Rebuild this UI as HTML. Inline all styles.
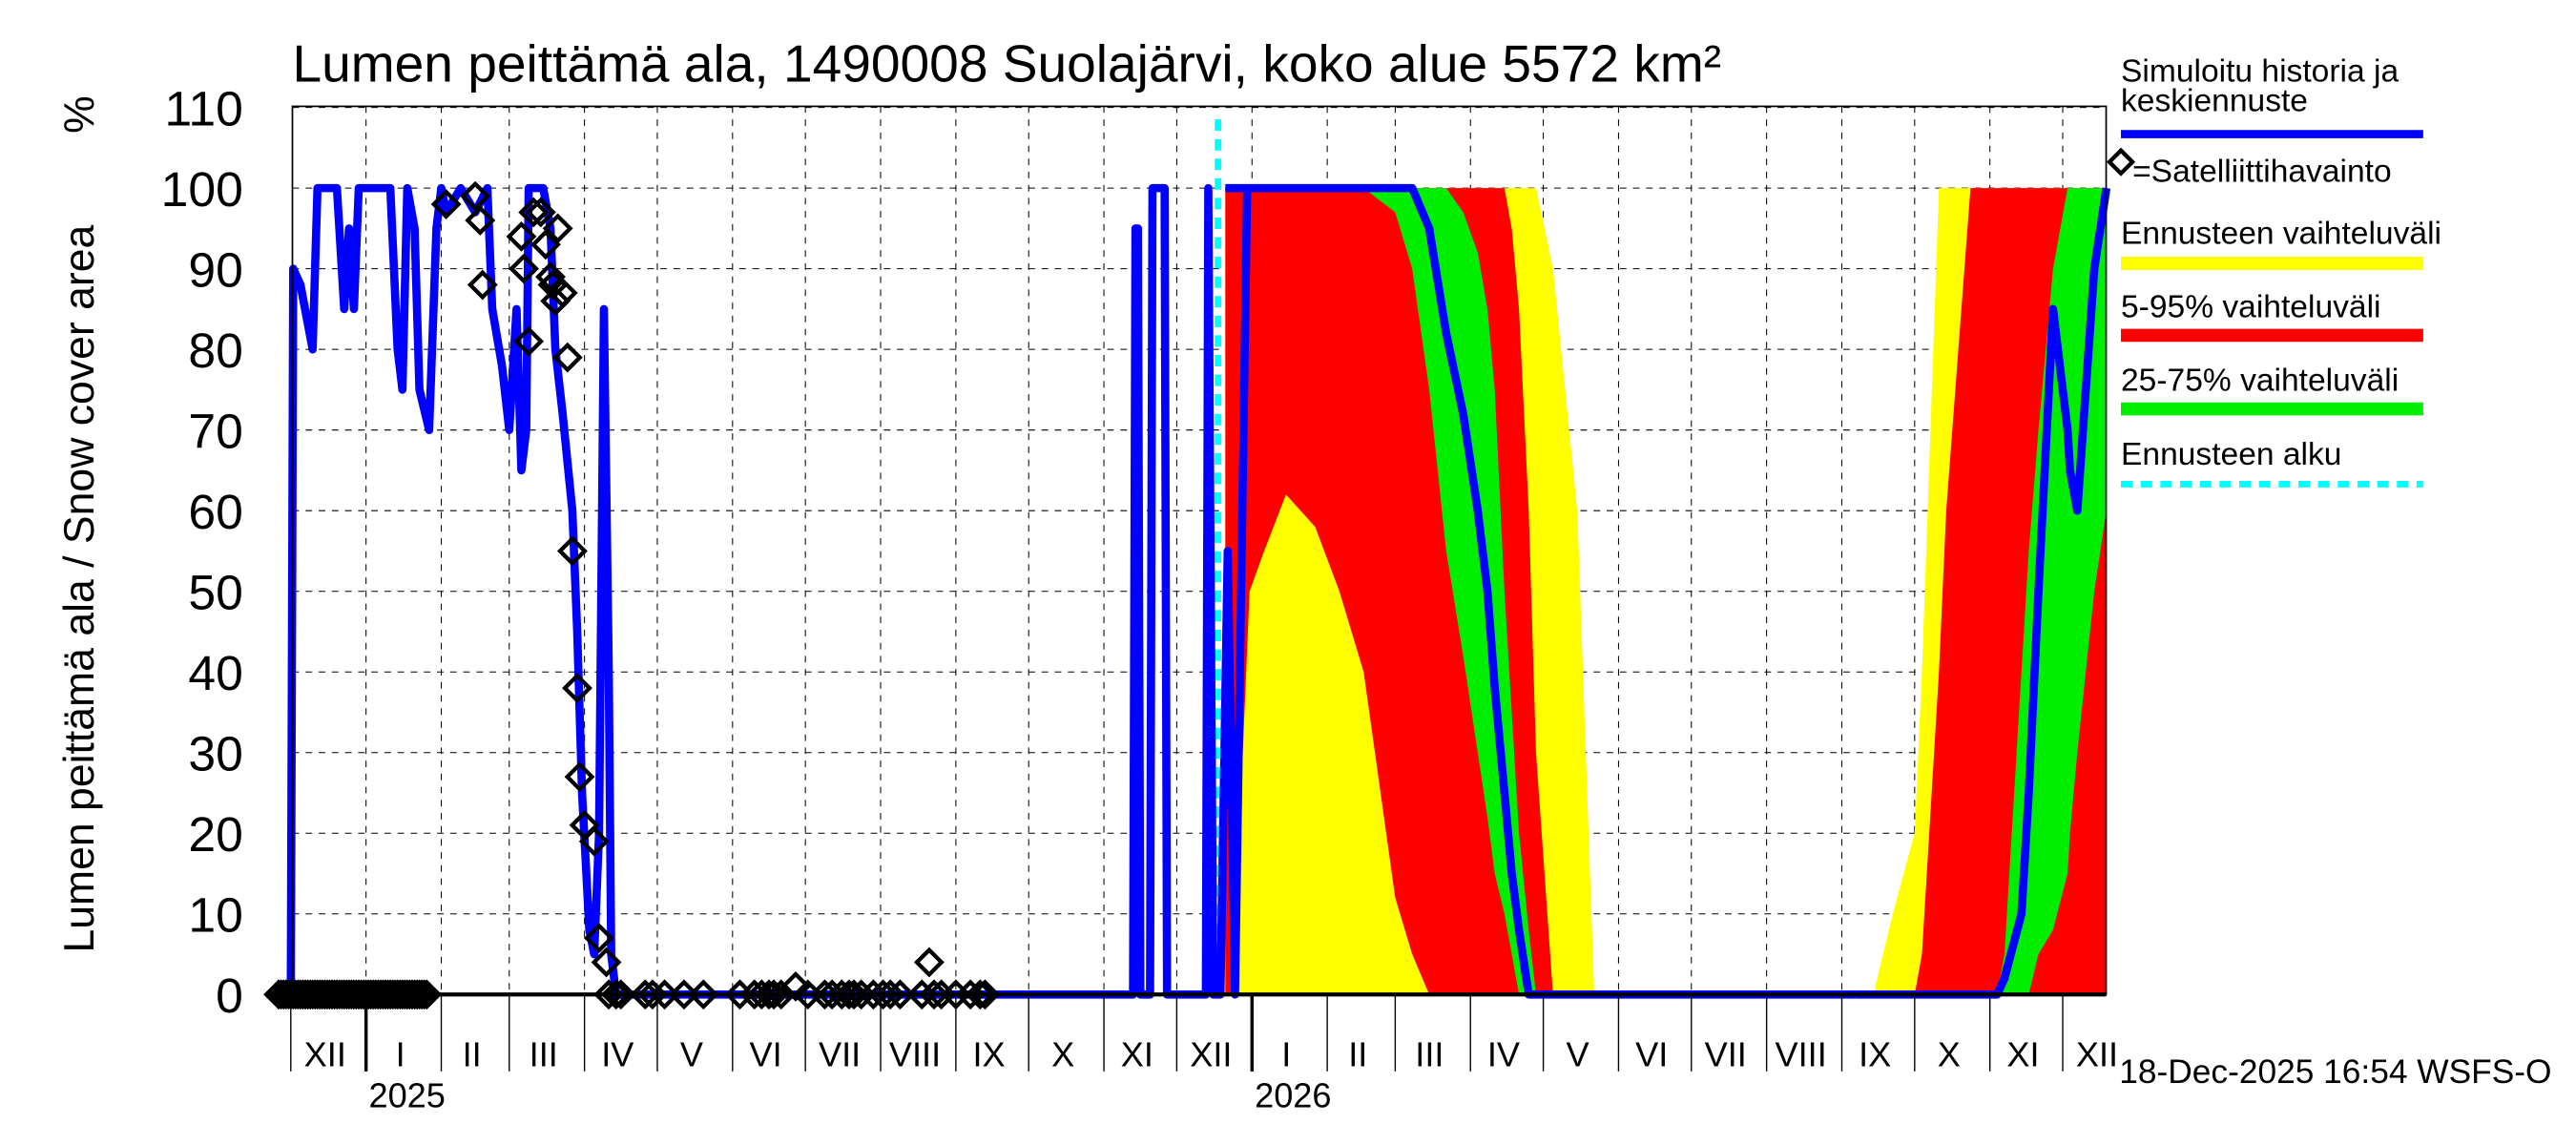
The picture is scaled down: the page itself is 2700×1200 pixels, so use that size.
<!DOCTYPE html>
<html><head><meta charset="utf-8">
<style>
html,body{margin:0;padding:0;background:#fff;}
svg{display:block;font-family:"Liberation Sans",sans-serif;}
</style></head>
<body>
<svg id="chart" xmlns="http://www.w3.org/2000/svg" width="2700" height="1200" viewBox="0 0 1568 700" preserveAspectRatio="none">
<rect x="0" y="0" width="1568" height="700" fill="#fff"/>
<text x="178" y="50" font-size="32">Lumen peittämä ala, 1490008 Suolajärvi, koko alue 5572 km²</text>
<text transform="translate(57,360) rotate(-90)" text-anchor="middle" font-size="26">Lumen peittämä ala / Snow cover area</text>
<text transform="translate(57,70) rotate(-90)" text-anchor="middle" font-size="26">%</text>
<g id="grid"></g>
<g id="bands"></g>
<g id="lines"></g>
<g id="axes"></g>
<g id="obs"></g>
<g id="legend">
<text x="1291" y="50" font-size="19.5">Simuloitu historia ja</text>
<text x="1291" y="68" font-size="19.5">keskiennuste</text>
<line x1="1291" y1="82" x2="1475" y2="82" stroke="#0000ff" stroke-width="5"/>
<path d="M1284,99 L1291,92 L1298,99 L1291,106 Z" fill="none" stroke="#000" stroke-width="2.5"/>
<text x="1298" y="111" font-size="19.5">=Satelliittihavainto</text>
<text x="1291" y="149" font-size="19.5">Ennusteen vaihteluväli</text>
<line x1="1291" y1="161" x2="1475" y2="161" stroke="#ffff00" stroke-width="8"/>
<text x="1291" y="194" font-size="19.5">5-95% vaihteluväli</text>
<line x1="1291" y1="205" x2="1475" y2="205" stroke="#ff0000" stroke-width="8"/>
<text x="1291" y="239" font-size="19.5">25-75% vaihteluväli</text>
<line x1="1291" y1="250" x2="1475" y2="250" stroke="#00ee00" stroke-width="8"/>
<text x="1291" y="284" font-size="19.5">Ennusteen alku</text>
<line x1="1291" y1="296" x2="1475" y2="296" stroke="#00ffff" stroke-width="4" stroke-dasharray="7,5"/>
</g>
<text x="1290" y="662" font-size="20.5">18-Dec-2025 16:54 WSFS-O</text>
</svg>
<script>
// days counted from 1 Dec 2024
const monthStarts = [0,31,62,90,121,151,182,212,243,274,304,335,365,396,427,455,486,516,547,577,608,639,669,700,730];
const monthLabels = ["XII","I","II","III","IV","V","VI","VII","VIII","IX","X","XI","XII","I","II","III","IV","V","VI","VII","VIII","IX","X","XI","XII"];
const yearLabels = ["2025","2026"];
const yearDays = [31,396];
const yTicks = [0,10,20,30,40,50,60,70,80,90,100,110];
const forecastStart = 382;

const histDays = [0,1,4,9,11,19,22,24,26,28,41,44,46,48,51,53,57,60,62,64,70,76,81,83,87,90,93,95,97,98,104,107,109,112,116,118,120,123,125,127,129,131,132,134,347,348,349,350,354,355,360,361,377,378,380,383,386,389,394];
const histVals = [0,90,88,80,100,100,85,95,85,100,100,80,75,100,95,75,70,95,100,97,100,97,100,85,78,70,85,65,70,100,100,95,80,72,60,45,25,8,5,20,85,40,5,0,0,95,95,0,0,100,100,0,0,100,0,0,55,0,100];

const springDays = [385,388,395,401,410,422,432,442,455,462,469,476,483,489,493,496,500,503,506,510,513,520,530,537];
const springMax  = [100,100,100,100,100,100,100,100,100,100,100,100,100,100,100,100,100,100,100,100,100,90,60,0];
const springMin  = [0,0,0,0,0,0,0,0,0,0,0,0,0,0,0,0,0,0,0,0,0,0,0,0];
const springP95  = [100,100,100,100,100,100,100,100,100,100,100,100,100,100,100,100,100,95,85,60,30,0,0,0];
const springP5   = [0,0,50,55,62,58,50,40,12,5,0,0,0,0,0,0,0,0,0,0,0,0,0,0];
const springP75  = [100,100,100,100,100,100,100,100,100,100,100,100,97,92,85,75,50,35,20,8,0,0,0,0];
const springP25  = [100,100,100,100,100,100,100,100,97,90,75,55,42,30,22,15,10,5,0,0,0,0,0,0];
const springMed  = [100,100,100,100,100,100,100,100,100,100,95,82,72,60,50,38,25,15,8,0,0,0,0,0];

const autumnDays = [645,652,660,669,672,679,682,692,703,706,713,716,720,726,732,733,736,743,748];
const autumnMax = [0,0,10,20,40,100,100,100,100,100,100,100,100,100,100,100,100,100,100];
const autumnMin = [0,0,0,0,0,0,0,0,0,0,0,0,0,0,0,0,0,0,0];
const autumnP95 = [0,0,0,0,5,40,60,100,100,100,100,100,100,100,100,100,100,100,100];
const autumnP5  = [0,0,0,0,0,0,0,0,0,0,0,0,0,0,0,0,0,0,0];
const autumnP75 = [0,0,0,0,0,0,0,0,0,5,40,55,70,90,100,100,100,100,100];
const autumnP25 = [0,0,0,0,0,0,0,0,0,0,0,0,5,8,15,20,30,50,60];
const autumnMed = [0,0,0,0,0,0,0,0,0,2,10,25,50,85,70,65,60,90,100];
const midDays = [537,645];
const midVals = [0,0];

const obsDays = [-5,-4,-3,-2,-1,0,1,2,3,4,5,6,7,8,9,10,11,12,13,14,15,16,17,18,19,20,21,22,23,24,25,26,27,28,29,30,31,32,33,34,35,36,37,38,39,40,41,42,43,44,45,46,47,48,49,50,51,52,53,54,55,56,
  64,76,78,79,95,96,98,100,103,105,107,108,109,110,112,114,116,119,118,121,127,130,125,131,134,
  136,146,149,154,162,170,185,191,194,197,199,202,208,213,220,223,227,230,232,235,240,244,247,251,260,263,265,268,274,280,284,286];
const obsVals = [0,0,0,0,0,0,0,0,0,0,0,0,0,0,0,0,0,0,0,0,0,0,0,0,0,0,0,0,0,0,0,0,0,0,0,0,0,0,0,0,0,0,0,0,0,0,0,0,0,0,0,0,0,0,0,0,0,0,0,0,0,0,
  98,99,96,88,94,90,81,97,97,93,89,88,86,95,87,79,55,27,38,21,7,4,19,0,0,
  0,0,0,0,0,0,0,0,0,0,0,0,1,0,0,0,0,0,0,0,0,0,0,0,0,4,0,0,0,0,0,0];

const NS = "http://www.w3.org/2000/svg";
const X0 = 177, PX = 1.4775, Y0 = 608, PY = 4.93;
const xs = d => X0 + d * PX;
const ys = v => Y0 - v * PY;
function mk(tag, attrs, parent) {
  const e = document.createElementNS(NS, tag);
  for (const k in attrs) e.setAttribute(k, attrs[k]);
  parent.appendChild(e);
  return e;
}
const grid = document.getElementById('grid');
const bands = document.getElementById('bands');
const lines = document.getElementById('lines');
const axes = document.getElementById('axes');
const obs = document.getElementById('obs');

yTicks.forEach(v => {
  if (v > 0) {
    const g = mk('line', {x1:178, x2:1282, y1:ys(v), y2:ys(v), stroke:'#000', 'stroke-width':0.6, 'stroke-dasharray':'4,4'}, grid);
    
    
  }
  const t = mk('text', {x:148, y:ys(v)+11, 'text-anchor':'end', 'font-size':30}, axes);
  t.textContent = v;
  
  
});
monthStarts.forEach((d, i) => {
  const x = xs(d);
  if (i > 0) {
    const g = mk('line', {x1:x, x2:x, y1:65, y2:608, stroke:'#000', 'stroke-width':0.6, 'stroke-dasharray':'4,4'}, grid);
    
    
  }
  const tk = mk('line', {x1:x, x2:x, y1:608, y2:655, stroke:'#000', 'stroke-width':0.8}, axes);
  
  
  const next = i + 1 < monthStarts.length ? monthStarts[i+1] : 761;
  const t = mk('text', {x:(x + xs(next))/2 - 2, y:652, 'text-anchor':'middle', 'font-size':21}, axes);
  t.textContent = monthLabels[i];
  
  
});
yearDays.forEach((d, i) => {
  const tk = mk('line', {x1:xs(d), x2:xs(d), y1:608, y2:655, stroke:'#000', 'stroke-width':2}, axes);
  
  
  const t = mk('text', {x:xs(d)+25, y:677, 'text-anchor':'middle', 'font-size':21}, axes);
  t.textContent = yearLabels[i];
  
  
});

function band(days, lo, hi, color, name) {
  let pts = days.map((d, i) => xs(d) + ',' + ys(hi[i]));
  pts = pts.concat(days.map((d, i) => xs(d) + ',' + ys(lo[i])).reverse());
  const p = mk('polygon', {points: pts.join(' '), fill: color, stroke: 'none'}, bands);
  
  
}
band(springDays, springMin, springMax, '#ffff00', 'band-minmax-spring');
band(springDays, springP5, springP95, '#ff0000', 'band-5-95-spring');
band(springDays, springP25, springP75, '#00ee00', 'band-25-75-spring');
band(autumnDays, autumnMin, autumnMax, '#ffff00', 'band-minmax-autumn');
band(autumnDays, autumnP5, autumnP95, '#ff0000', 'band-5-95-autumn');
band(autumnDays, autumnP25, autumnP75, '#00ee00', 'band-25-75-autumn');

const fr = mk('rect', {x:178, y:65, width:1104, height:543, fill:'none', stroke:'#000', 'stroke-width':1}, axes);


const zl = mk('line', {x1:178, x2:1282, y1:608, y2:608, stroke:'#000', 'stroke-width':2.5}, axes);



const fl = mk('line', {x1:xs(forecastStart), x2:xs(forecastStart), y1:73, y2:608, stroke:'#00ffff', 'stroke-width':4, 'stroke-dasharray':'7,5'}, lines);



function poly(days, vals, name) {
  const p = mk('polyline', {points: days.map((d, i) => xs(d) + ',' + ys(vals[i])).join(' '), fill:'none', stroke:'#0000ff', 'stroke-width':5, 'stroke-linejoin':'round'}, lines);
  
  
}
poly(histDays, histVals, 'history-line');
poly(springDays, springMed, 'median-spring-line');
poly(midDays, midVals, 'median-summer-line');
poly(autumnDays, autumnMed, 'median-autumn-line');

obsDays.forEach((d, i) => {
  const x = xs(d), y = ys(obsVals[i]);
  const p = mk('path', {d:`M${x-7.5},${y} L${x},${y-7.5} L${x+7.5},${y} L${x},${y+7.5} Z`, fill:'none', stroke:'#000', 'stroke-width':2.5}, obs);
  
  
});
</script>
</body></html>
